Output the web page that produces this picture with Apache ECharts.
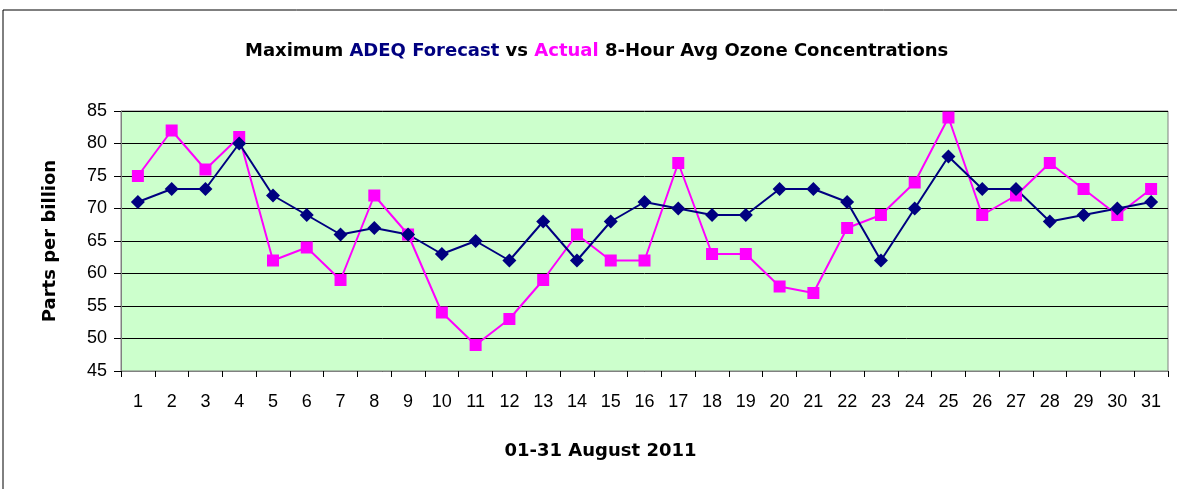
<!doctype html>
<html>
<head>
<meta charset="UTF-8">
<title>Ozone Forecast vs Actual</title>
<script src="https://cdn.jsdelivr.net/npm/echarts@6/dist/echarts.min.js"></script>
<style>
  html, body { margin: 0; padding: 0; background: #fff; }
  #main { width: 1177px; height: 489px; }
</style>
</head>
<body>
<div id="main"></div>
<script>
// days of August 2011
var days = [];
for (var d = 1; d <= 31; d++) days.push(String(d));

// ADEQ forecast (ppb)
var forecast = [71, 73, 73, 80, 72, 69, 66, 67, 66, 63, 65, 62, 68, 62, 68, 71,
                70, 69, 69, 73, 73, 71, 62, 70, 78, 73, 73, 68, 69, 70, 71];
// actual max 8-hour average (ppb)
var actual = [75, 82, 76, 81, 62, 64, 59, 72, 66, 54, 49, 53, 59, 66, 62, 62,
              77, 63, 63, 58, 57, 67, 69, 74, 84, 69, 72, 77, 73, 69, 73];

var yMin = 45, yMax = 85, yStep = 5;

var font = 'Liberation Sans, Arial, sans-serif';
var boldFont = 'DejaVu Sans, Liberation Sans, sans-serif';
var myChart = echarts.init(document.getElementById('main'));
var option = {
    animation: false,
    textStyle: { fontFamily: font },
    title: {
        text: '{k|Maximum }{f|ADEQ Forecast}{k| vs }{a|Actual}{k| 8-Hour Avg Ozone Concentrations}',
        left: 240,
        top: 37,
        textStyle: {
            rich: {
                k: { color: '#000', fontSize: 18, fontWeight: 'bold', fontFamily: boldFont },
                f: { color: '#000080', fontSize: 18, fontWeight: 'bold', fontFamily: boldFont },
                a: { color: '#ff00ff', fontSize: 18, fontWeight: 'bold', fontFamily: boldFont }
            }
        }
    },
    graphic: [
        {
            type: 'polyline',
            shape: { points: [[3, 489], [3, 10], [1177, 10]] },
            style: { stroke: '#000', lineWidth: 1, fill: null }
        }
    ],
    grid: {
        left: 121, right: 9, top: 111, bottom: 118,
        show: true,
        backgroundColor: '#ccffcc',
        borderColor: '#808080',
        borderWidth: 1
    },
    xAxis: {
        type: 'category',
        data: days,
        boundaryGap: true,
        name: '01-31 August 2011',
        nameLocation: 'middle',
        nameGap: 71,
        nameTextStyle: {
            fontSize: 18, fontWeight: 'bold', color: '#000', fontFamily: boldFont,
            padding: [0, 88, 0, 0]
        },
        axisLine: { onZero: false, lineStyle: { color: '#808080' } },
        axisTick: { show: true, alignWithLabel: false, length: 6, lineStyle: { color: '#000' } },
        axisLabel: { fontSize: 18, color: '#000', margin: 22, interval: 0 },
        splitLine: { show: false }
    },
    yAxis: {
        type: 'value',
        min: yMin, max: yMax, interval: yStep,
        name: 'Parts per billion',
        nameLocation: 'middle',
        nameGap: 62,
        nameTextStyle: { fontSize: 18, fontWeight: 'bold', color: '#000', fontFamily: boldFont },
        axisLine: { show: true, lineStyle: { color: '#808080' } },
        axisTick: { show: true, length: 7, lineStyle: { color: '#000' } },
        axisLabel: { fontSize: 18, color: '#000', margin: 14 },
        splitLine: { show: true, lineStyle: { color: '#000', width: 1 } }
    },
    series: [
        {
            name: 'Actual',
            type: 'line',
            data: actual,
            symbol: 'rect',
            symbolSize: 12,
            lineStyle: { color: '#ff00ff', width: 2 },
            itemStyle: { color: '#ff00ff' }
        },
        {
            name: 'ADEQ Forecast',
            type: 'line',
            data: forecast,
            symbol: 'diamond',
            symbolSize: 14,
            lineStyle: { color: '#000080', width: 2 },
            itemStyle: { color: '#000080' }
        }
    ]
};
myChart.setOption(option);
</script>
</body>
</html>
